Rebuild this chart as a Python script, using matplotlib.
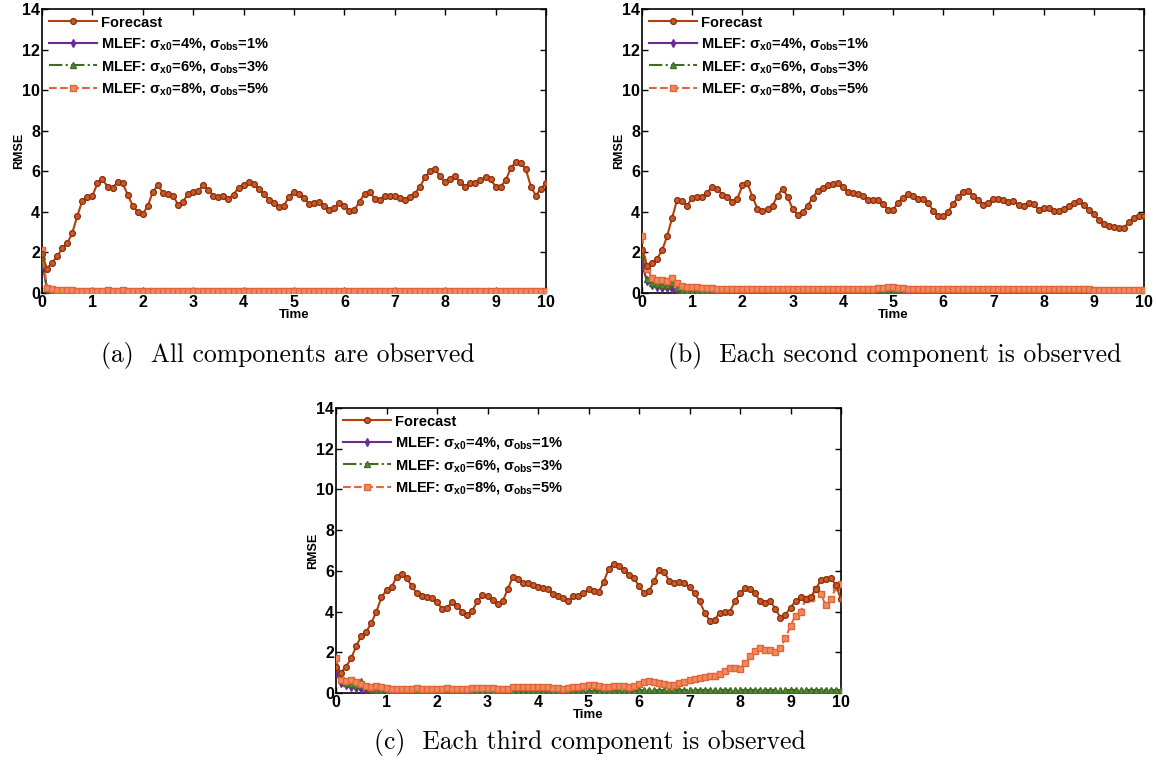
import numpy as np
import matplotlib
matplotlib.use('Agg')
import matplotlib.pyplot as plt

plt.rcParams['font.family'] = ['Liberation Sans', 'DejaVu Sans']
plt.rcParams['font.weight'] = 'bold'
plt.rcParams['mathtext.fontset'] = 'custom'
plt.rcParams['mathtext.rm'] = 'Liberation Sans:bold'
plt.rcParams['mathtext.it'] = 'Liberation Sans'
plt.rcParams['mathtext.bf'] = 'Liberation Sans:bold'

# time axis: 0 .. 10 in steps of 0.1
time = np.linspace(0, 10, 101)

# ---- (a) all components observed ----
forecast_a = [1.9, 1.2, 1.5, 1.8, 2.2, 2.45, 2.95, 3.8, 4.55, 4.75,
              4.8, 5.4, 5.6, 5.25, 5.2, 5.45, 5.4, 4.85, 4.3, 4.0,
              3.9, 4.3, 5.0, 5.3, 4.95, 4.9, 4.8, 4.35, 4.5, 4.9,
              5.0, 5.05, 5.3, 5.1, 4.8, 4.75, 4.8, 4.65, 4.85, 5.2,
              5.3, 5.45, 5.35, 5.15, 4.9, 4.6, 4.45, 4.25, 4.3, 4.75,
              5.0, 4.9, 4.7, 4.4, 4.45, 4.5, 4.3, 4.1, 4.2, 4.45,
              4.3, 4.05, 4.1, 4.5, 4.9, 5.0, 4.65, 4.6, 4.8, 4.8,
              4.8, 4.7, 4.6, 4.75, 4.9, 5.25, 5.7, 6.0, 6.1, 5.75,
              5.45, 5.6, 5.75, 5.45, 5.25, 5.4, 5.4, 5.55, 5.7, 5.6,
              5.25, 5.25, 5.55, 6.15, 6.45, 6.4, 6.1, 5.25, 4.8, 5.15,
              5.4]
mlef1_a = [1.6, 0.15, 0.06, 0.04, 0.03, 0.03, 0.02, 0.02, 0.02, 0.02,
           0.02, 0.02, 0.02, 0.02, 0.02, 0.02, 0.02, 0.02, 0.02, 0.02,
           0.02, 0.02, 0.02, 0.02, 0.02, 0.02, 0.02, 0.02, 0.02, 0.02,
           0.02, 0.02, 0.02, 0.02, 0.02, 0.02, 0.02, 0.02, 0.02, 0.02,
           0.02, 0.02, 0.02, 0.02, 0.02, 0.02, 0.02, 0.02, 0.02, 0.02,
           0.02, 0.02, 0.02, 0.02, 0.02, 0.02, 0.02, 0.02, 0.02, 0.02,
           0.02, 0.02, 0.02, 0.02, 0.02, 0.02, 0.02, 0.02, 0.02, 0.02,
           0.02, 0.02, 0.02, 0.02, 0.02, 0.02, 0.02, 0.02, 0.02, 0.02,
           0.02, 0.02, 0.02, 0.02, 0.02, 0.02, 0.02, 0.02, 0.02, 0.02,
           0.02, 0.02, 0.02, 0.02, 0.02, 0.02, 0.02, 0.02, 0.02, 0.02,
           0.02]
mlef2_a = [1.8, 0.2, 0.12, 0.1, 0.08, 0.08, 0.07, 0.07, 0.06, 0.06,
           0.06, 0.06, 0.06, 0.06, 0.06, 0.06, 0.06, 0.06, 0.06, 0.06,
           0.06, 0.06, 0.06, 0.06, 0.06, 0.06, 0.06, 0.06, 0.06, 0.06,
           0.06, 0.06, 0.06, 0.06, 0.06, 0.06, 0.06, 0.06, 0.06, 0.06,
           0.06, 0.06, 0.06, 0.06, 0.06, 0.06, 0.06, 0.06, 0.06, 0.06,
           0.06, 0.06, 0.06, 0.06, 0.06, 0.06, 0.06, 0.06, 0.06, 0.06,
           0.06, 0.06, 0.06, 0.06, 0.06, 0.06, 0.06, 0.06, 0.06, 0.06,
           0.06, 0.06, 0.06, 0.06, 0.06, 0.06, 0.06, 0.06, 0.06, 0.06,
           0.06, 0.06, 0.06, 0.06, 0.06, 0.06, 0.06, 0.06, 0.06, 0.06,
           0.06, 0.06, 0.06, 0.06, 0.06, 0.06, 0.06, 0.06, 0.06, 0.06,
           0.06]
mlef3_a = [2.1, 0.25, 0.18, 0.16, 0.15, 0.14, 0.13, 0.12, 0.12, 0.12,
           0.12, 0.12, 0.12, 0.13, 0.12, 0.12, 0.14, 0.12, 0.11, 0.11,
           0.11, 0.11, 0.1, 0.1, 0.1, 0.1, 0.1, 0.1, 0.1, 0.1,
           0.1, 0.1, 0.1, 0.1, 0.1, 0.1, 0.1, 0.1, 0.1, 0.1,
           0.1, 0.1, 0.1, 0.1, 0.1, 0.1, 0.1, 0.1, 0.1, 0.1,
           0.1, 0.1, 0.1, 0.1, 0.1, 0.1, 0.1, 0.1, 0.1, 0.1,
           0.1, 0.1, 0.1, 0.1, 0.1, 0.1, 0.1, 0.1, 0.1, 0.1,
           0.1, 0.1, 0.1, 0.1, 0.1, 0.1, 0.1, 0.1, 0.1, 0.1,
           0.1, 0.1, 0.1, 0.1, 0.1, 0.1, 0.1, 0.1, 0.1, 0.1,
           0.1, 0.1, 0.1, 0.1, 0.1, 0.1, 0.1, 0.1, 0.1, 0.1,
           0.1]

# ---- (b) each second component observed ----
forecast_b = [2.1, 1.35, 1.5, 1.7, 2.1, 2.8, 3.7, 4.6, 4.55, 4.3,
              4.7, 4.75, 4.75, 4.95, 5.25, 5.15, 4.85, 4.75, 4.5, 4.65,
              5.3, 5.4, 4.75, 4.15, 4.05, 4.15, 4.3, 4.8, 5.15, 4.75,
              4.15, 3.85, 4.0, 4.3, 4.7, 5.05, 5.2, 5.3, 5.35, 5.4,
              5.25, 5.0, 4.95, 4.9, 4.8, 4.6, 4.6, 4.6, 4.4, 4.1,
              4.1, 4.45, 4.7, 4.9, 4.8, 4.65, 4.65, 4.45, 4.05, 3.8,
              3.8, 4.0, 4.4, 4.75, 5.0, 5.05, 4.8, 4.6, 4.35, 4.45,
              4.65, 4.65, 4.6, 4.5, 4.55, 4.35, 4.3, 4.45, 4.4, 4.1,
              4.2, 4.2, 4.05, 4.05, 4.15, 4.3, 4.45, 4.55, 4.35, 4.1,
              3.9, 3.6, 3.4, 3.3, 3.25, 3.2, 3.2, 3.5, 3.7, 3.8,
              3.8]
mlef1_b = [1.4, 0.6, 0.4, 0.3, 0.25, 0.25, 0.2, 0.1, 0.06, 0.05,
           0.04, 0.04, 0.03, 0.03, 0.03, 0.03, 0.03, 0.03, 0.03, 0.03,
           0.03, 0.03, 0.03, 0.03, 0.03, 0.03, 0.03, 0.03, 0.03, 0.03,
           0.03, 0.03, 0.03, 0.03, 0.03, 0.03, 0.03, 0.03, 0.03, 0.03,
           0.03, 0.03, 0.03, 0.03, 0.03, 0.03, 0.04, 0.04, 0.05, 0.05,
           0.05, 0.04, 0.03, 0.03, 0.03, 0.03, 0.03, 0.03, 0.03, 0.03,
           0.03, 0.03, 0.03, 0.03, 0.03, 0.03, 0.03, 0.03, 0.03, 0.03,
           0.03, 0.03, 0.03, 0.03, 0.03, 0.03, 0.03, 0.03, 0.03, 0.03,
           0.03, 0.03, 0.03, 0.03, 0.03, 0.03, 0.03, 0.03, 0.03, 0.03,
           0.03, 0.03, 0.03, 0.03, 0.03, 0.03, 0.03, 0.03, 0.03, 0.03,
           0.03]
mlef2_b = [1.9, 0.7, 0.5, 0.45, 0.4, 0.4, 0.5, 0.25, 0.15, 0.12,
           0.1, 0.1, 0.1, 0.09, 0.09, 0.09, 0.08, 0.08, 0.08, 0.08,
           0.08, 0.08, 0.08, 0.08, 0.08, 0.08, 0.08, 0.08, 0.08, 0.08,
           0.08, 0.08, 0.08, 0.08, 0.08, 0.09, 0.1, 0.1, 0.1, 0.1,
           0.1, 0.1, 0.1, 0.1, 0.1, 0.11, 0.12, 0.13, 0.14, 0.14,
           0.14, 0.13, 0.12, 0.11, 0.1, 0.1, 0.1, 0.1, 0.1, 0.1,
           0.1, 0.1, 0.1, 0.1, 0.1, 0.1, 0.1, 0.1, 0.1, 0.1,
           0.1, 0.1, 0.1, 0.1, 0.1, 0.1, 0.1, 0.1, 0.1, 0.1,
           0.1, 0.1, 0.1, 0.1, 0.1, 0.1, 0.1, 0.1, 0.1, 0.1,
           0.1, 0.1, 0.1, 0.1, 0.1, 0.1, 0.1, 0.1, 0.1, 0.1,
           0.1]
mlef3_b = [2.8, 1.2, 0.75, 0.65, 0.65, 0.6, 0.75, 0.5, 0.35, 0.3,
           0.3, 0.28, 0.25, 0.25, 0.25, 0.22, 0.22, 0.2, 0.2, 0.2,
           0.2, 0.2, 0.22, 0.2, 0.2, 0.2, 0.2, 0.2, 0.18, 0.18,
           0.18, 0.18, 0.18, 0.18, 0.18, 0.18, 0.2, 0.2, 0.2, 0.2,
           0.2, 0.2, 0.2, 0.2, 0.2, 0.2, 0.22, 0.25, 0.27, 0.28,
           0.28, 0.26, 0.23, 0.2, 0.2, 0.2, 0.2, 0.2, 0.2, 0.2,
           0.2, 0.2, 0.2, 0.2, 0.2, 0.2, 0.2, 0.2, 0.2, 0.2,
           0.18, 0.18, 0.18, 0.18, 0.18, 0.18, 0.18, 0.18, 0.18, 0.18,
           0.18, 0.18, 0.18, 0.18, 0.18, 0.18, 0.18, 0.18, 0.18, 0.18,
           0.17, 0.17, 0.17, 0.17, 0.17, 0.17, 0.17, 0.17, 0.17, 0.17,
           0.17]

# ---- (c) each third component observed ----
forecast_c = [1.3, 1.0, 1.3, 1.7, 2.3, 2.8, 3.0, 3.45, 4.0, 4.7,
              5.05, 5.2, 5.7, 5.85, 5.65, 5.25, 4.9, 4.75, 4.7, 4.65,
              4.45, 4.15, 4.2, 4.45, 4.25, 4.0, 3.85, 4.05, 4.5, 4.8,
              4.75, 4.55, 4.35, 4.5, 5.1, 5.7, 5.6, 5.4, 5.4, 5.3,
              5.2, 5.15, 5.1, 4.85, 4.75, 4.65, 4.5, 4.75, 4.75, 4.9,
              5.1, 5.0, 4.95, 5.45, 6.1, 6.35, 6.25, 6.05, 5.8, 5.65,
              5.25, 4.9, 5.0, 5.5, 6.05, 5.95, 5.5, 5.4, 5.45, 5.4,
              5.2, 4.9, 4.5, 3.95, 3.55, 3.6, 3.95, 4.0, 4.0, 4.5,
              4.9, 5.15, 5.1, 4.9, 4.5, 4.4, 4.5, 4.15, 3.7, 3.85,
              4.2, 4.5, 4.7, 4.6, 4.7, 5.1, 5.55, 5.6, 5.65, 5.3,
              4.6]
mlef1_c = [1.0, 0.5, 0.4, 0.3, 0.25, 0.2, 0.12, 0.08, 0.05, 0.04,
           0.03, 0.03, 0.02, 0.02, 0.02, 0.02, 0.02, 0.02, 0.02, 0.02,
           0.02, 0.02, 0.03, 0.04, 0.03, 0.02, 0.02, 0.02, 0.02, 0.02,
           0.02, 0.02, 0.02, 0.02, 0.02, 0.02, 0.02, 0.02, 0.02, 0.02,
           0.02, 0.02, 0.02, 0.02, 0.02, 0.02, 0.02, 0.02, 0.02, 0.02,
           0.02, 0.02, 0.02, 0.02, 0.02, 0.02, 0.02, 0.02, 0.02, 0.02,
           0.02, 0.02, 0.02, 0.02, 0.02, 0.02, 0.02, 0.02, 0.02, 0.02,
           0.03, 0.03, 0.03, 0.03, 0.03, 0.03, 0.03, 0.03, 0.03, 0.02,
           0.02, 0.02, 0.02, 0.02, 0.02, 0.02, 0.02, 0.02, 0.02, 0.02,
           0.02, 0.02, 0.02, 0.02, 0.02, 0.02, 0.02, 0.02, 0.02, 0.02,
           0.02]
mlef2_c = [1.3, 0.7, 0.5, 0.45, 0.4, 0.6, 0.3, 0.2, 0.15, 0.15,
           0.12, 0.1, 0.1, 0.1, 0.1, 0.1, 0.08, 0.08, 0.08, 0.08,
           0.08, 0.08, 0.08, 0.08, 0.08, 0.08, 0.08, 0.08, 0.08, 0.08,
           0.08, 0.08, 0.08, 0.08, 0.08, 0.09, 0.09, 0.09, 0.09, 0.09,
           0.09, 0.09, 0.09, 0.09, 0.09, 0.1, 0.1, 0.1, 0.1, 0.1,
           0.1, 0.11, 0.11, 0.11, 0.11, 0.12, 0.12, 0.12, 0.12, 0.12,
           0.13, 0.14, 0.14, 0.14, 0.14, 0.14, 0.14, 0.14, 0.15, 0.15,
           0.15, 0.15, 0.15, 0.15, 0.15, 0.15, 0.15, 0.15, 0.15, 0.15,
           0.15, 0.15, 0.15, 0.15, 0.15, 0.15, 0.15, 0.15, 0.15, 0.15,
           0.15, 0.15, 0.15, 0.15, 0.15, 0.15, 0.15, 0.15, 0.15, 0.15,
           0.15]
mlef3_c = [1.7, 0.65, 0.6, 0.65, 0.55, 0.45, 0.35, 0.3, 0.35, 0.3,
           0.25, 0.22, 0.22, 0.2, 0.22, 0.22, 0.25, 0.22, 0.22, 0.2,
           0.2, 0.22, 0.25, 0.22, 0.2, 0.2, 0.22, 0.25, 0.25, 0.25,
           0.25, 0.25, 0.22, 0.2, 0.22, 0.28, 0.3, 0.3, 0.28, 0.28,
           0.28, 0.28, 0.28, 0.25, 0.25, 0.22, 0.25, 0.28, 0.3, 0.35,
           0.4, 0.38, 0.33, 0.3, 0.3, 0.32, 0.35, 0.32, 0.3, 0.33,
           0.45, 0.55, 0.58, 0.55, 0.5, 0.42, 0.38, 0.4, 0.5, 0.55,
           0.65, 0.7, 0.75, 0.8, 0.85, 0.85, 0.95, 1.1, 1.25, 1.25,
           1.2, 1.45, 1.8, 2.05, 2.2, 2.1, 2.1, 2.0, 2.2, 2.7,
           3.3, 3.8, 4.0, 4.6, 4.65, 5.1, 4.85, 4.3, 4.6, 5.2,
           5.35]

labels = ['Forecast',
          r'MLEF: $\sigma_{\mathrm{x0}}$=4%, $\sigma_{\mathrm{obs}}$=1%',
          r'MLEF: $\sigma_{\mathrm{x0}}$=6%, $\sigma_{\mathrm{obs}}$=3%',
          r'MLEF: $\sigma_{\mathrm{x0}}$=8%, $\sigma_{\mathrm{obs}}$=5%']

captions = ['(a)  All components are observed',
            '(b)  Each second component is observed',
            '(c)  Each third component is observed']

W, H = 1156, 772
fig = plt.figure(figsize=(W / 100, H / 100), dpi=100)


def px_axes(left, right, top, bottom):
    return fig.add_axes([left / W, 1 - bottom / H, (right - left) / W, (bottom - top) / H])


def draw_panel(ax, fc, m1, m2, m3):
    ax.plot(time, fc, '-', color='#B5400C', lw=1.5, marker='o', ms=4.2,
            mfc='#C9582A', mec='#8A2E08', mew=0.9, label=labels[0], zorder=5)
    ax.plot(time, m1, '-', color='#6B2B95', lw=1.5, marker='d', ms=4,
            mfc='#6B2B95', mec='#6B2B95', label=labels[1], zorder=3)
    ax.plot(time, m2, '-.', color='#3F6B22', lw=1.5, marker='^', ms=4.5,
            mfc='#5A8A3A', mec='#3F6B22', label=labels[2], zorder=3)
    ax.plot(time, m3, '--', color='#E2643A', lw=1.5, marker='s', ms=4,
            mfc='#F08A5E', mec='#E2643A', label=labels[3], zorder=4)
    ax.set_xlim(0, 10)
    ax.set_ylim(0, 14)
    ax.set_xticks(range(0, 11))
    ax.set_yticks(range(0, 15, 2))
    ax.tick_params(direction='in', top=True, right=True, length=4, width=1,
                   labelsize=11.5, pad=1.5)
    for lab in ax.get_xticklabels() + ax.get_yticklabels():
        lab.set_fontweight('bold')
    for s in ax.spines.values():
        s.set_linewidth(1.2)
    ax.set_xlabel('Time', fontsize=9.5, fontweight='bold', labelpad=-1)
    ax.set_ylabel('RMSE', fontsize=9, fontweight='bold', labelpad=-2)
    ax.legend(loc='upper left', frameon=False, handlelength=3.3,
              handletextpad=0.3, labelspacing=0.45, borderaxespad=0.3,
              borderpad=0.15, prop={'weight': 'bold', 'size': 10.5})


ax_a = px_axes(42, 546, 9, 293)
draw_panel(ax_a, forecast_a, mlef1_a, mlef2_a, mlef3_a)
ax_b = px_axes(642, 1144, 9, 293)
draw_panel(ax_b, forecast_b, mlef1_b, mlef2_b, mlef3_b)
ax_c = px_axes(336, 841, 408, 693)
draw_panel(ax_c, forecast_c, mlef1_c, mlef2_c, mlef3_c)

cap_font = dict(fontsize=18.5, fontfamily='cmr10', fontweight='normal',
                ha='center', va='center')
fig.text(288 / W, 1 - 355 / H, captions[0], **cap_font)
fig.text(895 / W, 1 - 355 / H, captions[1], **cap_font)
fig.text(590 / W, 1 - 743 / H, captions[2], **cap_font)

fig.savefig('out.png', dpi=100)
